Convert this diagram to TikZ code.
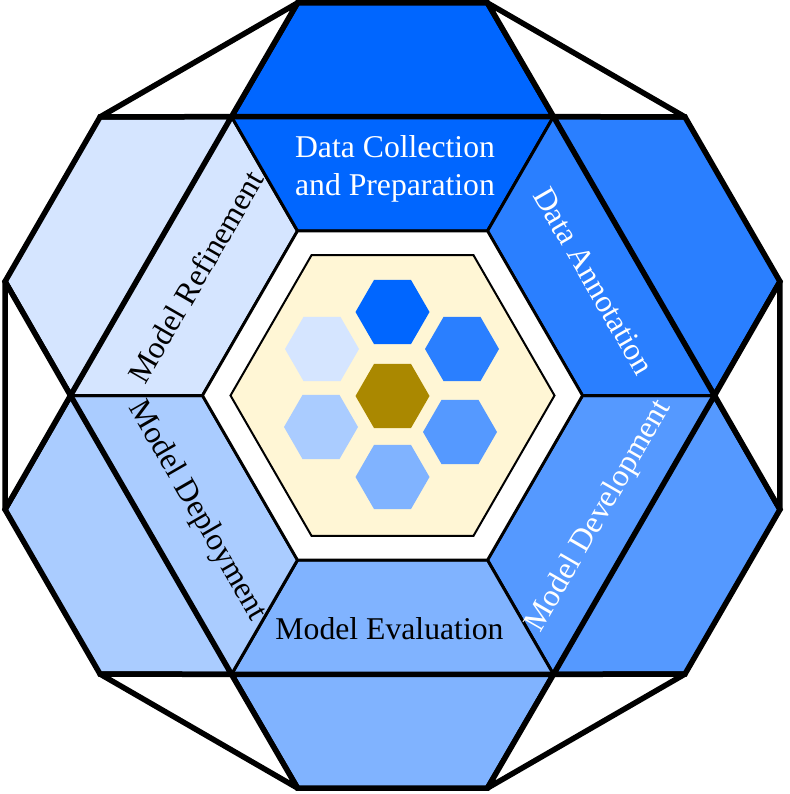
\documentclass[tikz,border=0pt]{standalone}
\usepackage{fontspec}
\setmainfont{Liberation Serif}
\usetikzlibrary{calc}
\definecolor{bA}{HTML}{0066FF}
\definecolor{bB}{HTML}{2A7FFF}
\definecolor{bC}{HTML}{5599FF}
\definecolor{bD}{HTML}{80B3FF}
\definecolor{bE}{HTML}{AACCFF}
\definecolor{bF}{HTML}{D5E5FF}
\definecolor{cream}{HTML}{FFF6D5}
\definecolor{gold}{HTML}{AA8800}
\begin{document}
\begin{tikzpicture}[x=1pt,y=-1pt,line join=miter,
  band/.style={draw=black,line width=3pt},
  outerpiece/.style={draw=black,line width=5.5pt},
  gap/.style={fill=white,draw=black,line width=5.5pt,line join=round},
  lbl/.style={inner sep=0pt,font=\fontsize{31.7}{38}\selectfont}]
\useasboundingbox (0,0) rectangle (789,794);
\coordinate (C) at (392.5,395.5);
\foreach \k/\a in {0/0,1/60,2/120,3/180,4/240,5/300}{
  \coordinate (O\k) at ($(C)+(\a:322)$);
  \coordinate (I\k) at ($(C)+(\a:190)$);
  \coordinate (H\k) at ($(C)+(\a:162)$);
}
\foreach \k/\j/\n in {0/1/30,1/2/90,2/3/150,3/4/210,4/5/270,5/0/330}{
  \coordinate (A\k) at ($(I\k)+(\n:228)$);
  \coordinate (B\k) at ($(I\j)+(\n:228)$);
}
% bands of the ring
\foreach \k/\j/\c in {0/1/bC,1/2/bD,2/3/bE,3/4/bF,4/5/bA,5/0/bB}{
  \path[band,fill=\c] (I\k) -- (O\k) -- (O\j) -- (I\j) -- cycle;
}
% outer pieces
\foreach \k/\j/\c in {0/1/bC,1/2/bD,2/3/bE,3/4/bF,4/5/bA,5/0/bB}{
  \path[outerpiece,fill=\c] (O\k) -- (A\k) -- (B\k) -- (O\j) -- cycle;
}
% white triangles
\foreach \k/\p in {0/5,1/0,2/1,3/2,4/3,5/4}{
  \path[gap] (O\k) -- (B\p) -- (A\k) -- cycle;
}
% central hexagons
\path[fill=white,draw=black,line width=2.8pt] (I0)--(I1)--(I2)--(I3)--(I4)--(I5)--cycle;
\path[fill=cream,draw=black,line width=2pt] (H0)--(H1)--(H2)--(H3)--(H4)--(H5)--cycle;
% small hexagons
\foreach \x/\y/\c in {392.5/312/bA,462/349/bB,460/432/bC,392.5/477/bD,321/427/bE,322/349/bF,392.5/396/gold}{
  \fill[\c,shift={(\x,\y)}] (0:37)--(60:37)--(120:37)--(180:37)--(240:37)--(300:37)--cycle;
}
% labels
\node[lbl,text=white,align=center] (tcollect) at (395,168.6) {Data Collection\\and Preparation};
\node[lbl,anchor=base] (teval) at (389.5,639) {Model Evaluation};
\node[lbl,text=white,rotate=-60] (tannot) at (594,281) {Data Annotation};
\node[lbl,text=white,rotate=60] (tdev) at (599,516.5) {Model Development};
\node[lbl,rotate=-60] (tdeploy) at (197,511) {Model Deployment};
\node[lbl,rotate=60] (trefine) at (196,277) {Model Refinement};
\end{tikzpicture}
\end{document}
